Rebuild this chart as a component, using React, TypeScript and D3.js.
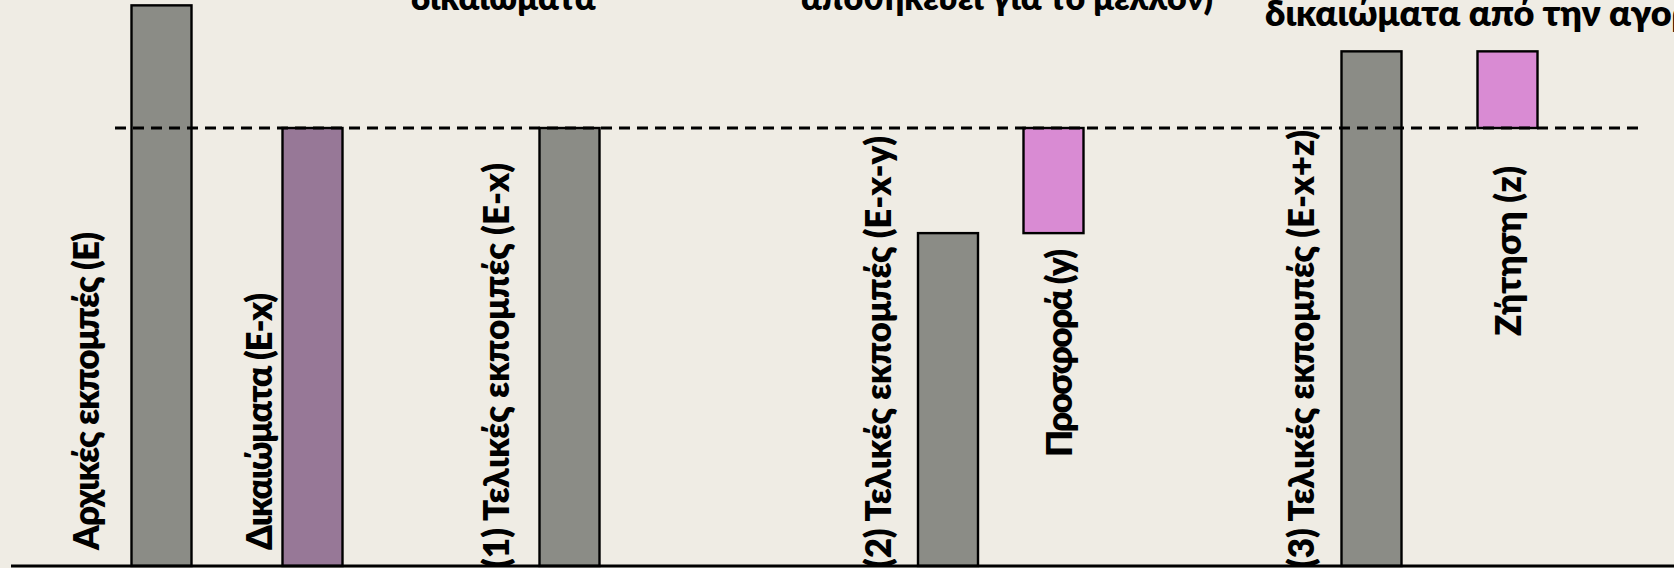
import React, { useEffect, useRef } from 'react';
import * as d3 from 'd3';

// Bars, left to right (units: allowance level = 100)
const categories = [
  'Αρχικές εκπομπές (Ε)',
  'Δικαιώματα (Ε-x)',
  '(1) Τελικές εκπομπές (Ε-x)',
  '(2) Τελικές εκπομπές (Ε-x-y)',
  'Προσφορά (y)',
  '(3) Τελικές εκπομπές (Ε-x+z)',
  'Ζήτηση (z)',
];
const barLow = [0, 0, 0, 0, 76, 0, 100];
const barHigh = [128, 100, 100, 76, 100, 117.5, 117.5];
const barGroup = ['emission', 'allowance', 'emission', 'emission', 'trade', 'emission', 'trade'];
const allowanceLevel = 100;

// last visible lines of the captions above the chart
const topNotes = ['δικαιώματα', 'αποθηκεύει για το μέλλον)', 'δικαιώματα από την αγορά'];

const App = () => {
  const svgRef = useRef(null);

  useEffect(() => {
    const width = 1674;
    const height = 568;
    const baseY = 566;
    const font = "Lato, 'Open Sans', sans-serif";
    const colors = { emission: '#8b8c86', allowance: '#977897', trade: '#d98bd3' };

    // layout on the slide
    const barCenters = [161.5, 312.5, 569.5, 948, 1053.5, 1371.5, 1507.5];
    const labelPos = [
      { x: 99, y: 550, len: 318 },
      { x: 272, y: 550, len: 257 },
      { x: 509, y: 568, len: 405 },
      { x: 891, y: 568, len: 432 },
      { x: 1072, y: 457, len: 208 },
      { x: 1314, y: 568, len: 438 },
      { x: 1521, y: 336, len: 170 },
    ];
    const notePos = [
      { x: 411, y: 10, size: 34 },
      { x: 801, y: 10, size: 34 },
      { x: 1265, y: 26, size: 36 },
    ];

    const svg = d3.select(svgRef.current);
    svg.selectAll('*').remove();
    svg.attr('width', width).attr('height', height);

    svg.append('rect').attr('width', width).attr('height', height).attr('fill', '#efece4');

    const x = d3.scaleLinear().domain([0, width]).range([0, width]);
    const y = d3.scaleLinear().domain([0, allowanceLevel]).range([baseY, 128]);
    const barWidth = 60;

    // bars
    svg
      .selectAll('rect.bar')
      .data(categories)
      .enter()
      .append('rect')
      .attr('class', 'bar')
      .attr('x', (d, i) => x(barCenters[i]) - barWidth / 2)
      .attr('y', (d, i) => y(barHigh[i]))
      .attr('width', barWidth)
      .attr('height', (d, i) => y(barLow[i]) - y(barHigh[i]))
      .attr('fill', (d, i) => colors[barGroup[i]])
      .attr('stroke', '#000')
      .attr('stroke-width', 2.4);

    // allowance level
    svg
      .append('line')
      .attr('x1', 115)
      .attr('x2', 1644)
      .attr('y1', y(allowanceLevel))
      .attr('y2', y(allowanceLevel))
      .attr('stroke', '#000')
      .attr('stroke-width', 2.8)
      .attr('stroke-dasharray', '11,7');

    // baseline
    svg
      .append('line')
      .attr('x1', 11)
      .attr('x2', width)
      .attr('y1', y(0))
      .attr('y2', y(0))
      .attr('stroke', '#000')
      .attr('stroke-width', 3);

    // rotated bar labels
    svg
      .selectAll('text.label')
      .data(categories)
      .enter()
      .append('text')
      .attr('class', 'label')
      .attr('transform', (d, i) => `translate(${labelPos[i].x},${labelPos[i].y}) rotate(-90)`)
      .attr('font-family', font)
      .attr('font-weight', 800)
      .attr('font-size', 35)
      .attr('textLength', (d, i) => labelPos[i].len)
      .attr('lengthAdjust', 'spacing')
      .attr('fill', '#000')
      .text((d) => d);

    // captions cut off at the top
    svg
      .selectAll('text.note')
      .data(topNotes)
      .enter()
      .append('text')
      .attr('class', 'note')
      .attr('x', (d, i) => notePos[i].x)
      .attr('y', (d, i) => notePos[i].y)
      .attr('font-family', font)
      .attr('font-weight', 800)
      .attr('font-size', (d, i) => notePos[i].size)
      .attr('fill', '#000')
      .text((d) => d);
  }, []);

  return (
    <div style={{ position: 'absolute', left: 0, top: 0 }}>
      <svg ref={svgRef} style={{ display: 'block' }}></svg>
    </div>
  );
};

export default App;
